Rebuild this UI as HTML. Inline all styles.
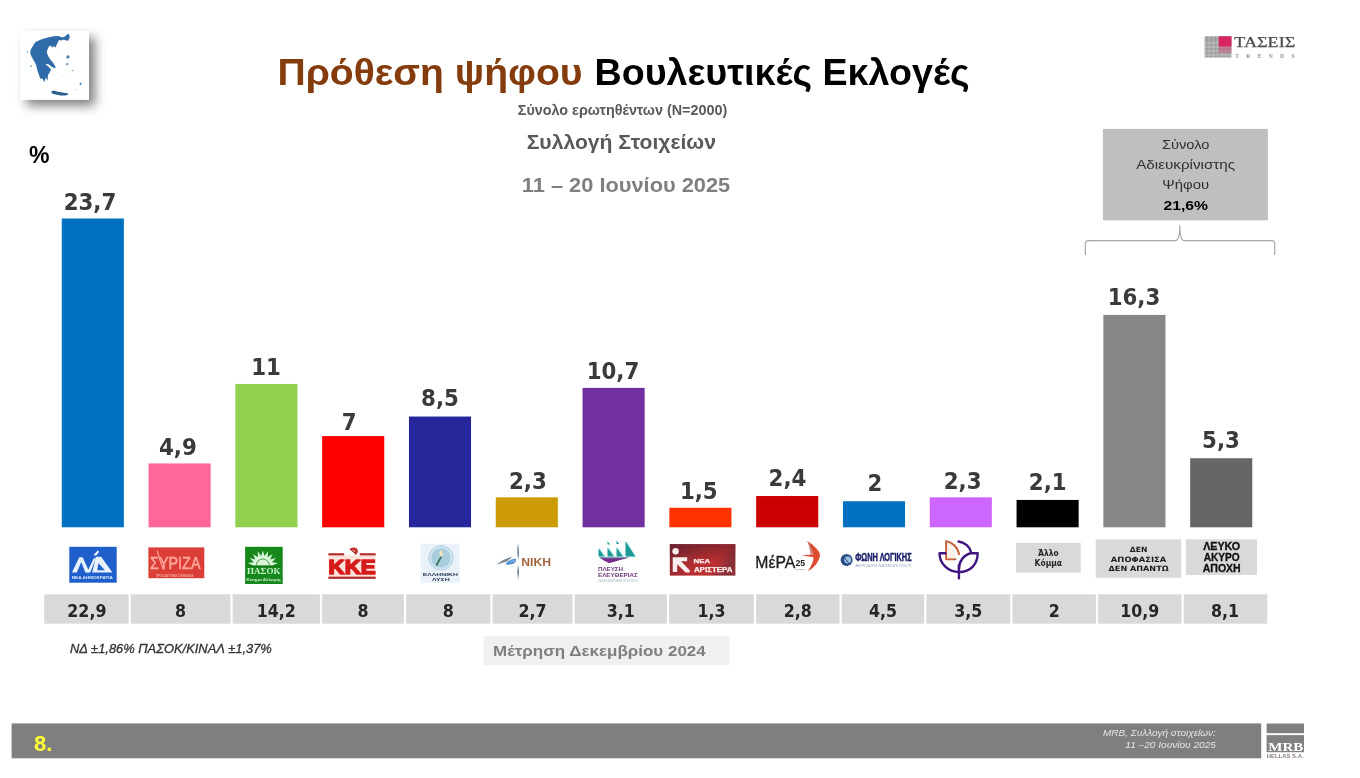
<!DOCTYPE html>
<html lang="el">
<head>
<meta charset="utf-8">
<title>Πρόθεση ψήφου Βουλευτικές Εκλογές</title>
<style>
html,body{margin:0;padding:0;background:#fff;}
body{width:1360px;height:778px;overflow:hidden;position:relative;font-family:"Liberation Sans",sans-serif;}
svg{position:absolute;left:0;top:0;display:block;}
text{white-space:pre;}
</style>
</head>
<body>
<svg width="1360" height="778" viewBox="0 0 1360 778">
<rect x="0" y="0" width="1360" height="778" fill="#ffffff"/>
<g id="bars">
<rect x="61.75" y="218.49" width="62.10" height="308.81" fill="#0070C0"/>
<rect x="148.55" y="463.45" width="62.10" height="63.85" fill="#FF6699"/>
<rect x="235.35" y="383.97" width="62.10" height="143.33" fill="#92D050"/>
<rect x="322.15" y="436.09" width="62.10" height="91.21" fill="#FF0000"/>
<rect x="408.95" y="416.54" width="62.10" height="110.75" fill="#26269B"/>
<rect x="495.75" y="497.33" width="62.10" height="29.97" fill="#CC9B06"/>
<rect x="582.55" y="387.88" width="62.10" height="139.42" fill="#7030A0"/>
<rect x="669.35" y="507.75" width="62.10" height="19.55" fill="#FF3300"/>
<rect x="756.15" y="496.03" width="62.10" height="31.27" fill="#CC0000"/>
<rect x="842.95" y="501.24" width="62.10" height="26.06" fill="#0070C0"/>
<rect x="929.75" y="497.33" width="62.10" height="29.97" fill="#CC66FF"/>
<rect x="1016.55" y="499.94" width="62.10" height="27.36" fill="#000000"/>
<rect x="1103.35" y="314.91" width="62.10" height="212.39" fill="#878787"/>
<rect x="1190.15" y="458.24" width="62.10" height="69.06" fill="#666666"/>
</g>
<g id="bar-labels">
<text x="90.0" y="209.8" font-family='"DejaVu Sans Condensed", "DejaVu Sans", sans-serif' font-size="23" font-weight="bold" font-style="normal" fill="#3A3A3A" text-anchor="middle" textLength="52.6" lengthAdjust="spacingAndGlyphs">23,7</text>
<text x="177.9" y="455.0" font-family='"DejaVu Sans Condensed", "DejaVu Sans", sans-serif' font-size="23" font-weight="bold" font-style="normal" fill="#3A3A3A" text-anchor="middle" textLength="37.8" lengthAdjust="spacingAndGlyphs">4,9</text>
<text x="266.0" y="374.8" font-family='"DejaVu Sans Condensed", "DejaVu Sans", sans-serif' font-size="23" font-weight="bold" font-style="normal" fill="#3A3A3A" text-anchor="middle" textLength="29.7" lengthAdjust="spacingAndGlyphs">11</text>
<text x="349.2" y="430.0" font-family='"DejaVu Sans Condensed", "DejaVu Sans", sans-serif' font-size="23" font-weight="bold" font-style="normal" fill="#3A3A3A" text-anchor="middle" textLength="14.8" lengthAdjust="spacingAndGlyphs">7</text>
<text x="440.0" y="405.5" font-family='"DejaVu Sans Condensed", "DejaVu Sans", sans-serif' font-size="23" font-weight="bold" font-style="normal" fill="#3A3A3A" text-anchor="middle" textLength="37.8" lengthAdjust="spacingAndGlyphs">8,5</text>
<text x="527.9" y="488.5" font-family='"DejaVu Sans Condensed", "DejaVu Sans", sans-serif' font-size="23" font-weight="bold" font-style="normal" fill="#3A3A3A" text-anchor="middle" textLength="37.8" lengthAdjust="spacingAndGlyphs">2,3</text>
<text x="613.0" y="378.5" font-family='"DejaVu Sans Condensed", "DejaVu Sans", sans-serif' font-size="23" font-weight="bold" font-style="normal" fill="#3A3A3A" text-anchor="middle" textLength="52.6" lengthAdjust="spacingAndGlyphs">10,7</text>
<text x="698.8" y="498.5" font-family='"DejaVu Sans Condensed", "DejaVu Sans", sans-serif' font-size="23" font-weight="bold" font-style="normal" fill="#3A3A3A" text-anchor="middle" textLength="37.8" lengthAdjust="spacingAndGlyphs">1,5</text>
<text x="787.5" y="486.0" font-family='"DejaVu Sans Condensed", "DejaVu Sans", sans-serif' font-size="23" font-weight="bold" font-style="normal" fill="#3A3A3A" text-anchor="middle" textLength="37.8" lengthAdjust="spacingAndGlyphs">2,4</text>
<text x="874.8" y="490.9" font-family='"DejaVu Sans Condensed", "DejaVu Sans", sans-serif' font-size="23" font-weight="bold" font-style="normal" fill="#3A3A3A" text-anchor="middle" textLength="14.8" lengthAdjust="spacingAndGlyphs">2</text>
<text x="962.6" y="488.5" font-family='"DejaVu Sans Condensed", "DejaVu Sans", sans-serif' font-size="23" font-weight="bold" font-style="normal" fill="#3A3A3A" text-anchor="middle" textLength="37.8" lengthAdjust="spacingAndGlyphs">2,3</text>
<text x="1047.7" y="489.5" font-family='"DejaVu Sans Condensed", "DejaVu Sans", sans-serif' font-size="23" font-weight="bold" font-style="normal" fill="#3A3A3A" text-anchor="middle" textLength="37.8" lengthAdjust="spacingAndGlyphs">2,1</text>
<text x="1134.0" y="305.2" font-family='"DejaVu Sans Condensed", "DejaVu Sans", sans-serif' font-size="23" font-weight="bold" font-style="normal" fill="#3A3A3A" text-anchor="middle" textLength="52.6" lengthAdjust="spacingAndGlyphs">16,3</text>
<text x="1221.0" y="447.6" font-family='"DejaVu Sans Condensed", "DejaVu Sans", sans-serif' font-size="23" font-weight="bold" font-style="normal" fill="#3A3A3A" text-anchor="middle" textLength="37.8" lengthAdjust="spacingAndGlyphs">5,3</text>
</g>
<g id="table">
<rect x="44.20" y="594.30" width="84.40" height="29.40" fill="#D9D9D9"/>
<rect x="130.80" y="594.30" width="99.60" height="29.40" fill="#D9D9D9"/>
<rect x="232.60" y="594.30" width="87.30" height="29.40" fill="#D9D9D9"/>
<rect x="322.10" y="594.30" width="81.80" height="29.40" fill="#D9D9D9"/>
<rect x="406.10" y="594.30" width="84.30" height="29.40" fill="#D9D9D9"/>
<rect x="492.60" y="594.30" width="79.90" height="29.40" fill="#D9D9D9"/>
<rect x="574.70" y="594.30" width="92.20" height="29.40" fill="#D9D9D9"/>
<rect x="669.10" y="594.30" width="84.80" height="29.40" fill="#D9D9D9"/>
<rect x="756.10" y="594.30" width="83.40" height="29.40" fill="#D9D9D9"/>
<rect x="841.70" y="594.30" width="82.50" height="29.40" fill="#D9D9D9"/>
<rect x="926.40" y="594.30" width="83.80" height="29.40" fill="#D9D9D9"/>
<rect x="1012.40" y="594.30" width="83.50" height="29.40" fill="#D9D9D9"/>
<rect x="1098.10" y="594.30" width="83.40" height="29.40" fill="#D9D9D9"/>
<rect x="1183.70" y="594.30" width="83.60" height="29.40" fill="#D9D9D9"/>
<text x="86.9" y="617.3" font-family='"DejaVu Sans Condensed", "DejaVu Sans", sans-serif' font-size="17.6" font-weight="bold" font-style="normal" fill="#262626" text-anchor="middle">22,9</text>
<text x="180.6" y="617.3" font-family='"DejaVu Sans Condensed", "DejaVu Sans", sans-serif' font-size="17.6" font-weight="bold" font-style="normal" fill="#262626" text-anchor="middle">8</text>
<text x="276.2" y="617.3" font-family='"DejaVu Sans Condensed", "DejaVu Sans", sans-serif' font-size="17.6" font-weight="bold" font-style="normal" fill="#262626" text-anchor="middle">14,2</text>
<text x="363.0" y="617.3" font-family='"DejaVu Sans Condensed", "DejaVu Sans", sans-serif' font-size="17.6" font-weight="bold" font-style="normal" fill="#262626" text-anchor="middle">8</text>
<text x="448.2" y="617.3" font-family='"DejaVu Sans Condensed", "DejaVu Sans", sans-serif' font-size="17.6" font-weight="bold" font-style="normal" fill="#262626" text-anchor="middle">8</text>
<text x="532.5" y="617.3" font-family='"DejaVu Sans Condensed", "DejaVu Sans", sans-serif' font-size="17.6" font-weight="bold" font-style="normal" fill="#262626" text-anchor="middle">2,7</text>
<text x="620.8" y="617.3" font-family='"DejaVu Sans Condensed", "DejaVu Sans", sans-serif' font-size="17.6" font-weight="bold" font-style="normal" fill="#262626" text-anchor="middle">3,1</text>
<text x="711.5" y="617.3" font-family='"DejaVu Sans Condensed", "DejaVu Sans", sans-serif' font-size="17.6" font-weight="bold" font-style="normal" fill="#262626" text-anchor="middle">1,3</text>
<text x="797.8" y="617.3" font-family='"DejaVu Sans Condensed", "DejaVu Sans", sans-serif' font-size="17.6" font-weight="bold" font-style="normal" fill="#262626" text-anchor="middle">2,8</text>
<text x="883.0" y="617.3" font-family='"DejaVu Sans Condensed", "DejaVu Sans", sans-serif' font-size="17.6" font-weight="bold" font-style="normal" fill="#262626" text-anchor="middle">4,5</text>
<text x="968.3" y="617.3" font-family='"DejaVu Sans Condensed", "DejaVu Sans", sans-serif' font-size="17.6" font-weight="bold" font-style="normal" fill="#262626" text-anchor="middle">3,5</text>
<text x="1054.2" y="617.3" font-family='"DejaVu Sans Condensed", "DejaVu Sans", sans-serif' font-size="17.6" font-weight="bold" font-style="normal" fill="#262626" text-anchor="middle">2</text>
<text x="1139.8" y="617.3" font-family='"DejaVu Sans Condensed", "DejaVu Sans", sans-serif' font-size="17.6" font-weight="bold" font-style="normal" fill="#262626" text-anchor="middle">10,9</text>
<text x="1224.9" y="617.3" font-family='"DejaVu Sans Condensed", "DejaVu Sans", sans-serif' font-size="17.6" font-weight="bold" font-style="normal" fill="#262626" text-anchor="middle">8,1</text>
</g>
<g id="titles">
<text x="277.5" y="84.8" font-family='"Liberation Sans", sans-serif' font-size="37" font-weight="bold" font-style="normal" fill="#843C0C" text-anchor="start" textLength="305.0" lengthAdjust="spacingAndGlyphs">Πρόθεση ψήφου</text>
<text x="594.5" y="84.8" font-family='"Liberation Sans", sans-serif' font-size="37" font-weight="bold" font-style="normal" fill="#000000" text-anchor="start" textLength="375.0" lengthAdjust="spacingAndGlyphs">Βουλευτικές Εκλογές</text>
<text x="517.8" y="115.4" font-family='"Liberation Sans", sans-serif' font-size="13.8" font-weight="bold" font-style="normal" fill="#595959" text-anchor="start" textLength="209.4" lengthAdjust="spacingAndGlyphs">Σύνολο ερωτηθέντων (Ν=2000)</text>
<text x="526.7" y="149.0" font-family='"Liberation Sans", sans-serif' font-size="21" font-weight="bold" font-style="normal" fill="#595959" text-anchor="start" textLength="189.3" lengthAdjust="spacingAndGlyphs">Συλλογή Στοιχείων</text>
<text x="521.8" y="191.6" font-family='"Liberation Sans", sans-serif' font-size="20.4" font-weight="bold" font-style="normal" fill="#7f7f7f" text-anchor="start" textLength="208.4" lengthAdjust="spacingAndGlyphs">11 – 20 Ιουνίου 2025</text>
<text x="29.0" y="163.0" font-family='"Liberation Sans", sans-serif' font-size="23" font-weight="bold" font-style="normal" fill="#000000" text-anchor="start" textLength="20.5" lengthAdjust="spacingAndGlyphs">%</text>
</g>
<g id="summary">
<rect x="1102.90" y="128.90" width="165.00" height="91.40" fill="#BFBFBF"/>
<text x="1185.7" y="148.7" font-family='"Liberation Sans", sans-serif' font-size="12.6" font-weight="normal" font-style="normal" fill="#303030" text-anchor="middle" textLength="47.5" lengthAdjust="spacingAndGlyphs">Σύνολο</text>
<text x="1185.7" y="168.6" font-family='"Liberation Sans", sans-serif' font-size="12.6" font-weight="normal" font-style="normal" fill="#303030" text-anchor="middle" textLength="99.0" lengthAdjust="spacingAndGlyphs">Αδιευκρίνιστης</text>
<text x="1185.7" y="188.6" font-family='"Liberation Sans", sans-serif' font-size="12.6" font-weight="normal" font-style="normal" fill="#303030" text-anchor="middle" textLength="46.7" lengthAdjust="spacingAndGlyphs">Ψήφου</text>
<text x="1185.7" y="209.8" font-family='"Liberation Sans", sans-serif' font-size="13.2" font-weight="bold" font-style="normal" fill="#000000" text-anchor="middle" textLength="44.6" lengthAdjust="spacingAndGlyphs">21,6%</text>
<path d="M1085.4 255 V243.5 Q1085.4 240.6 1088.5 240.6 H1175.4 Q1179.8 240.6 1179.8 225.3 Q1179.8 240.6 1184.2 240.6 H1271.6 Q1274.7 240.6 1274.7 243.5 V255" fill="none" stroke="#A6A6A6" stroke-width="1.2"/>
</g>
<g id="notes">
<text x="70.0" y="652.8" font-family='"Liberation Sans", sans-serif' font-size="12" font-weight="normal" font-style="italic" fill="#333333" text-anchor="start" textLength="201.8" lengthAdjust="spacingAndGlyphs" stroke="#333333" stroke-width="0.3">ΝΔ ±1,86% ΠΑΣΟΚ/ΚΙΝΑΛ ±1,37%</text>
<rect x="483.40" y="636.30" width="246.00" height="28.80" fill="#F0F0F0"/>
<text x="493.0" y="655.9" font-family='"Liberation Sans", sans-serif' font-size="15" font-weight="bold" font-style="normal" fill="#7f7f7f" text-anchor="start" textLength="212.7" lengthAdjust="spacingAndGlyphs">Μέτρηση Δεκεμβρίου 2024</text>
</g>
<g id="footer">
<rect x="11.60" y="723.40" width="1249.60" height="34.90" fill="#7F7F7F"/>
<text x="34.0" y="750.8" font-family='"Liberation Sans", sans-serif' font-size="22" font-weight="bold" font-style="normal" fill="#FFFF33" text-anchor="start">8.</text>
<text x="1215.9" y="735.6" font-family='"Liberation Sans", sans-serif' font-size="9.8" font-weight="normal" font-style="italic" fill="#E6E6E6" text-anchor="end" textLength="112.9" lengthAdjust="spacingAndGlyphs">MRB, Συλλογή στοιχείων:</text>
<text x="1215.9" y="748.0" font-family='"Liberation Sans", sans-serif' font-size="9.8" font-weight="normal" font-style="italic" fill="#E6E6E6" text-anchor="end" textLength="90.6" lengthAdjust="spacingAndGlyphs">11 –20 Ιουνίου 2025</text>
</g>
<defs><filter id="cardsh" x="-40%" y="-40%" width="200%" height="200%"><feGaussianBlur in="SourceAlpha" stdDeviation="5.5"/><feOffset dx="6" dy="6"/><feComponentTransfer><feFuncA type="linear" slope="0.5"/></feComponentTransfer><feMerge><feMergeNode/><feMergeNode in="SourceGraphic"/></feMerge></filter></defs>
<g id="logo-map">
<rect x="20.5" y="31.2" width="68.5" height="68.6" fill="#ffffff" filter="url(#cardsh)"/>
<g transform="translate(20,28) scale(0.09643)" fill="#2E6BA8">
<path d="M505,60 L517,95 L500,132 L470,128 L452,120 L430,130 L405,124 L392,150 L378,178 L366,206 L350,186 L336,204 L318,182 L300,192 L284,222 L278,255 L292,290 L312,325 L345,362 L368,405 L352,416 L325,400 L295,377 L262,374 L300,404 L322,432 L306,464 L290,487 L286,548 L268,514 L252,562 L234,524 L212,526 L196,484 L182,444 L174,414 L166,382 L146,342 L122,302 L106,262 L111,225 L132,188 L158,148 L200,126 L250,110 L300,96 L350,86 L400,82 L440,98 L470,86 L490,64 Z"/>
<path d="M322,660 L350,647 L392,660 L440,670 L492,676 L504,690 L470,701 L420,699 L370,690 L333,678 Z" fill="#2A5F8C"/>
<path d="M300,330 L355,385 L372,420 L350,405 L300,350 Z"/>
<circle cx="497" cy="300" r="17" opacity="0.85"/><circle cx="490" cy="375" r="11" opacity="0.8"/><circle cx="545" cy="440" r="8" opacity="0.6"/><ellipse cx="628" cy="580" rx="9" ry="15" transform="rotate(25 628 580)" opacity="0.85"/><circle cx="575" cy="640" r="6" opacity="0.6"/><circle cx="75" cy="250" r="8" opacity="0.7"/><circle cx="115" cy="395" r="9" opacity="0.7"/><circle cx="430" cy="235" r="5" opacity="0.4"/><circle cx="450" cy="500" r="5" opacity="0.3"/><circle cx="400" cy="470" r="5" opacity="0.3"/><circle cx="520" cy="520" r="5" opacity="0.3"/>
</g></g>
<g id="logo-taseis">
<rect x="1204.60" y="36.30" width="26.90" height="21.20" fill="#A9A9A9"/>
<rect x="1206.6" y="36.3" width="1.1" height="21.2" fill="#8a8a8a" opacity="0.55"/>
<rect x="1210.8" y="36.3" width="1.1" height="21.2" fill="#8a8a8a" opacity="0.55"/>
<rect x="1215.0" y="36.3" width="1.1" height="21.2" fill="#8a8a8a" opacity="0.55"/>
<rect x="1219.2" y="36.3" width="1.1" height="21.2" fill="#8a8a8a" opacity="0.55"/>
<rect x="1223.4" y="36.3" width="1.1" height="21.2" fill="#8a8a8a" opacity="0.55"/>
<rect x="1227.6" y="36.3" width="1.1" height="21.2" fill="#8a8a8a" opacity="0.55"/>
<rect x="1204.6" y="42.5" width="26.9" height="0.9" fill="#d5d5d5" opacity="0.7"/>
<rect x="1204.6" y="46.5" width="26.9" height="0.9" fill="#d5d5d5" opacity="0.7"/>
<rect x="1204.6" y="50.5" width="26.9" height="0.9" fill="#d5d5d5" opacity="0.7"/>
<rect x="1204.6" y="54.5" width="26.9" height="0.9" fill="#d5d5d5" opacity="0.7"/>
<rect x="1218.70" y="36.30" width="12.80" height="10.30" fill="#D8245F"/>
<rect x="1218.7" y="46.6" width="12.8" height="6" fill="#D8245F" opacity="0.35"/>
<text x="1234.3" y="46.6" font-family='"Liberation Serif", serif' font-size="14.8" font-weight="normal" font-style="normal" fill="#4A4A4A" text-anchor="start" textLength="61.0" lengthAdjust="spacingAndGlyphs" stroke="#4A4A4A" stroke-width="0.25">ΤΑΣΕΙΣ</text>
<text x="1235.3" y="57.7" font-family='"Liberation Serif", serif' font-size="5.6" font-weight="bold" font-style="normal" fill="#909090" text-anchor="start" letter-spacing="7.3">TRENDS</text>
</g>
<g id="logo-mrb">
<rect x="1266.60" y="723.50" width="37.40" height="9.70" fill="#808080"/>
<rect x="1266.60" y="735.10" width="37.40" height="17.10" fill="#808080"/>
<text x="1268.2" y="751.0" font-family='"Liberation Serif", serif' font-size="12.6" font-weight="bold" font-style="normal" fill="#ffffff" text-anchor="start" textLength="35.2" lengthAdjust="spacingAndGlyphs">MRB</text>
<text x="1266.8" y="757.7" font-family='"Liberation Sans", sans-serif' font-size="4.6" font-weight="bold" font-style="normal" fill="#8A7A80" text-anchor="start" textLength="36.8" lengthAdjust="spacingAndGlyphs">HELLAS S.A.</text>
</g>
<g id="cat-boxes">
<rect x="1016.00" y="542.80" width="64.70" height="29.80" fill="#D9D9D9"/>
<text x="1048.3" y="556.2" font-family='"DejaVu Sans Condensed", "DejaVu Sans", sans-serif' font-size="8" font-weight="bold" font-style="normal" fill="#262626" text-anchor="middle" textLength="20.5" lengthAdjust="spacingAndGlyphs">Άλλο</text>
<text x="1048.3" y="565.6" font-family='"DejaVu Sans Condensed", "DejaVu Sans", sans-serif' font-size="8" font-weight="bold" font-style="normal" fill="#262626" text-anchor="middle" textLength="27.5" lengthAdjust="spacingAndGlyphs">Κόμμα</text>
<rect x="1095.70" y="539.30" width="85.50" height="38.50" fill="#D9D9D9"/>
<text x="1138.6" y="551.8" font-family='"DejaVu Sans Condensed", "DejaVu Sans", sans-serif' font-size="7.3" font-weight="bold" font-style="normal" fill="#1a1a1a" text-anchor="middle" textLength="17.5" lengthAdjust="spacingAndGlyphs">ΔΕΝ</text>
<text x="1138.6" y="562.0" font-family='"DejaVu Sans Condensed", "DejaVu Sans", sans-serif' font-size="7.3" font-weight="bold" font-style="normal" fill="#1a1a1a" text-anchor="middle" textLength="55.5" lengthAdjust="spacingAndGlyphs">ΑΠΟΦΑΣΙΣΑ</text>
<text x="1138.6" y="571.3" font-family='"DejaVu Sans Condensed", "DejaVu Sans", sans-serif' font-size="7.3" font-weight="bold" font-style="normal" fill="#1a1a1a" text-anchor="middle" textLength="60.0" lengthAdjust="spacingAndGlyphs">ΔΕΝ ΑΠΑΝΤΩ</text>
<rect x="1185.90" y="539.30" width="71.10" height="35.60" fill="#D9D9D9"/>
<text x="1221.7" y="550.0" font-family='"Liberation Sans", sans-serif' font-size="10" font-weight="bold" font-style="normal" fill="#111111" text-anchor="middle" textLength="37.0" lengthAdjust="spacingAndGlyphs" stroke="#111111" stroke-width="0.3">ΛΕΥΚΟ</text>
<text x="1221.7" y="561.1" font-family='"Liberation Sans", sans-serif' font-size="10" font-weight="bold" font-style="normal" fill="#111111" text-anchor="middle" textLength="36.0" lengthAdjust="spacingAndGlyphs" stroke="#111111" stroke-width="0.3">ΑΚΥΡΟ</text>
<text x="1221.7" y="572.2" font-family='"Liberation Sans", sans-serif' font-size="10" font-weight="bold" font-style="normal" fill="#111111" text-anchor="middle" textLength="38.0" lengthAdjust="spacingAndGlyphs" stroke="#111111" stroke-width="0.3">ΑΠΟΧΗ</text>
</g>
<g id="logo-nd">
<rect x="69.30" y="546.80" width="47.40" height="35.90" fill="#1F5FCB"/>
<g transform="translate(60,540) scale(0.06427)">
<g fill="#E8F2FF">
<path d="M185,505 L262,505 L335,330 L300,268 Z"/>
<path d="M300,268 L352,268 L445,470 L445,505 L395,505 Z"/>
<path d="M420,505 L470,505 L560,285 L525,285 Z"/>
<path d="M520,235 L590,160 L610,185 L560,245 Z"/>
<path d="M560,262 L640,262 L815,505 L500,505 Z M598,360 L580,470 L700,470 Z" fill-rule="evenodd"/>
</g></g>
<text x="71.8" y="579.3" font-family='"Liberation Sans", sans-serif' font-size="3.9" font-weight="bold" font-style="normal" fill="#DDEBFF" text-anchor="start" textLength="41.0" lengthAdjust="spacingAndGlyphs">ΝΕΑ ΔΗΜΟΚΡΑΤΙΑ</text>
</g>
<g id="logo-syriza">
<rect x="148.40" y="547.40" width="55.90" height="30.80" fill="#DB3E36"/>
<text x="150.0" y="569.0" font-family='"Liberation Sans", sans-serif' font-size="16.6" font-weight="normal" font-style="normal" fill="#FFA79C" text-anchor="start" textLength="50.5" lengthAdjust="spacingAndGlyphs" stroke="#FFA79C" stroke-width="0.45">ΣΥΡΙΖΑ</text>
<path d="M157.2,550.5 L160.2,561 L163.4,569.5" stroke="#FFA79C" stroke-width="1.1" fill="none"/>
<text x="156.0" y="577.2" font-family='"Liberation Sans", sans-serif' font-size="2.9" font-weight="bold" font-style="normal" fill="#F5A79E" text-anchor="start" textLength="37.3" lengthAdjust="spacingAndGlyphs">ΠΡΟΟΔΕΥΤΙΚΗ ΣΥΜΜΑΧΙΑ</text>
</g>
<g id="logo-pasok">
<rect x="245.10" y="546.80" width="37.60" height="37.20" fill="#16871A"/>
<path d="M253.2,565.6 L247.8,563.0 L253.8,562.3 L249.6,558.0 L255.4,559.4 L253.0,554.0 L258.0,557.3 L257.6,551.3 L261.1,556.1 L262.8,550.4 L264.5,556.1 L268.0,551.3 L267.6,557.3 L272.6,554.0 L270.2,559.4 L276.0,558.0 L271.8,562.3 L277.8,563.0 L272.4,565.6 Z" fill="#D9F6DA"/>
<path d="M256.2,565.6 A6.6,6.6 0 0 1 269.4,565.6" fill="none" stroke="#3C9A3F" stroke-width="0.9"/>
<rect x="246.5" y="565.8" width="34.8" height="0.8" fill="#0F6E13"/>
<text x="247.0" y="574.0" font-family='"Liberation Serif", serif' font-size="7.4" font-weight="bold" font-style="normal" fill="#C8F2CA" text-anchor="start" textLength="33.5" lengthAdjust="spacingAndGlyphs">ΠΑΣΟΚ</text>
<text x="246.6" y="581.0" font-family='"Liberation Sans", sans-serif' font-size="4.3" font-weight="bold" font-style="normal" fill="#C9F0CB" text-anchor="start" textLength="34.6" lengthAdjust="spacingAndGlyphs">Κίνημα Αλλαγής</text>
</g>
<g id="logo-kke">
<rect x="328.40" y="555.40" width="47.30" height="21.20" fill="#FCE4DD"/>
<rect x="328.40" y="553.20" width="15.80" height="2.20" fill="#B42E2E"/>
<rect x="359.80" y="553.20" width="15.90" height="2.20" fill="#B42E2E"/>
<rect x="328.40" y="576.60" width="47.30" height="2.30" fill="#B42E2E"/>
<path d="M349.2,550 Q351,547.2 354.6,547.6 Q358.4,548.6 357.8,552 Q357,554.6 354.4,554.4 Q355.6,552.2 354.4,550.6 Q352.6,549.2 349.2,550 Z" fill="#C22A2A"/>
<path d="M350.2,549 L356.6,554.2" stroke="#A82424" stroke-width="1.2"/>
<text x="328.6" y="573.7" font-family='"Liberation Sans", sans-serif' font-size="21" font-weight="bold" font-style="normal" fill="#D61B1B" text-anchor="start" textLength="47.0" lengthAdjust="spacingAndGlyphs" stroke="#D61B1B" stroke-width="1.7" stroke-linejoin="round">ΚΚΕ</text>
</g>
<g id="logo-el">
<rect x="420.70" y="543.80" width="38.90" height="39.20" fill="#EAF1F8"/>
<circle cx="441" cy="557.9" r="12.2" fill="#CFE3EF" stroke="#B4CFE2" stroke-width="1"/>
<circle cx="441" cy="557.9" r="9.6" fill="#A9CDDD"/>
<path d="M436.6,565 L441,557.2" stroke="#2F6B57" stroke-width="1.6" stroke-linecap="round"/>
<ellipse cx="441.2" cy="553.6" rx="1.7" ry="3" fill="#E8E3B8"/>
<text x="422.7" y="576.2" font-family='"Liberation Sans", sans-serif' font-size="4.4" font-weight="bold" font-style="normal" fill="#2B3955" text-anchor="start" textLength="35.3" lengthAdjust="spacingAndGlyphs">ΕΛΛΗΝΙΚΗ</text>
<text x="432.0" y="580.5" font-family='"Liberation Sans", sans-serif' font-size="3.8" font-weight="bold" font-style="normal" fill="#2B3955" text-anchor="start" textLength="17.7" lengthAdjust="spacingAndGlyphs">ΛΥΣΗ</text>
</g>
<g id="logo-niki">
<g transform="translate(490,538) scale(0.06427)">
<path d="M435,85 Q466,220 440,335 Q410,220 435,85 Z" fill="#6F8CA4"/>
<path d="M436,415 Q466,530 436,645 Q408,530 436,415 Z" fill="#6F8CA4"/>
<path d="M95,412 Q200,330 340,292 Q310,335 250,368 Q180,392 95,412 Z" fill="#7C8894"/>
<path d="M240,412 Q300,318 405,325 Q418,372 362,402 Q310,420 240,412 Z" fill="#4C8FD0"/>
<path d="M300,380 Q340,345 395,345 Q380,370 300,380 Z" fill="#A8D2F2"/>
</g>
<text x="521.3" y="565.6" font-family='"Liberation Sans", sans-serif' font-size="11.6" font-weight="bold" font-style="normal" fill="#A3643C" text-anchor="start" textLength="29.8" lengthAdjust="spacingAndGlyphs">ΝΙΚΗ</text>
</g>
<g id="logo-plefsi">
<g transform="translate(580,536) scale(0.06427)">
<g fill="#C6F4F4"><path d="M300,170 L300,325 L410,325 Z"/><path d="M440,160 L440,325 L560,325 Z"/><path d="M580,160 L580,325 L700,325 Z"/><path d="M720,70 L720,325 L880,325 Z"/></g>
<g fill="#1C9A96"><path d="M288,190 L288,320 L380,320 Z"/><path d="M428,180 L428,320 L528,320 Z"/><path d="M428,80 L428,132 L468,132 Z"/><path d="M568,180 L568,320 L668,320 Z"/><path d="M568,70 L568,126 L610,126 Z"/><path d="M708,82 L708,320 L862,320 Z"/></g>
<path d="M300,336 L770,336 Q640,372 560,392 Q490,418 450,420 Q380,395 300,336 Z" fill="#7A2C8C"/>
<path d="M300,336 L770,336 L640,352 L330,352 Z" fill="#3E8FA0" opacity="0.7"/>
</g>
<text x="598.0" y="570.5" font-family='"Liberation Sans", sans-serif' font-size="4.6" font-weight="bold" font-style="normal" fill="#6B3A7C" text-anchor="start" textLength="25.0" lengthAdjust="spacingAndGlyphs">ΠΛΕΥΣΗ</text>
<text x="598.0" y="576.8" font-family='"Liberation Sans", sans-serif' font-size="5.3" font-weight="bold" font-style="normal" fill="#6B3A7C" text-anchor="start" textLength="39.8" lengthAdjust="spacingAndGlyphs">ΕΛΕΥΘΕΡΙΑΣ</text>
<text x="598.0" y="582.0" font-family='"Liberation Sans", sans-serif' font-size="2.8" font-weight="normal" font-style="normal" fill="#9BB3C4" text-anchor="start" textLength="40.5" lengthAdjust="spacingAndGlyphs">ΖΩΗ ΚΩΝΣΤΑΝΤΟΠΟΥΛΟΥ</text>
</g>
<g id="logo-nea">
<defs><linearGradient id="neag" x1="0" y1="0" x2="1" y2="0.35"><stop offset="0" stop-color="#7C2432"/><stop offset="0.55" stop-color="#B52E30"/><stop offset="0.8" stop-color="#C03030"/><stop offset="1" stop-color="#8C3038"/></linearGradient><linearGradient id="neag2" x1="0" y1="0" x2="0" y2="1"><stop offset="0" stop-color="#5A1E2C" stop-opacity="0.55"/><stop offset="0.6" stop-color="#5A1E2C" stop-opacity="0"/></linearGradient></defs>
<rect x="669.8" y="544.1" width="65.6" height="31.5" fill="url(#neag)"/>
<rect x="669.8" y="544.1" width="65.6" height="31.5" fill="url(#neag2)"/>
<g transform="translate(665,538) scale(0.06427)">
<g fill="#FBEDED"><circle cx="165" cy="205" r="50"/><path d="M120,300 L345,300 L345,360 L250,360 L385,500 L385,535 L320,535 L190,410 L190,530 L120,530 Z"/></g>
</g>
<text x="693.6" y="563.1" font-family='"Liberation Sans", sans-serif' font-size="5.9" font-weight="bold" font-style="normal" fill="#FBEDED" text-anchor="start" textLength="16.6" lengthAdjust="spacingAndGlyphs" stroke="#FBEDED" stroke-width="0.25">ΝΕΑ</text>
<text x="693.9" y="571.7" font-family='"Liberation Sans", sans-serif' font-size="6.7" font-weight="bold" font-style="normal" fill="#FBEDED" text-anchor="start" textLength="38.6" lengthAdjust="spacingAndGlyphs" stroke="#FBEDED" stroke-width="0.25">ΑΡΙΣΤΕΡΑ</text>
</g>
<g id="logo-mera">
<text x="755.3" y="567.8" font-family='"Liberation Sans", sans-serif' font-size="17" font-weight="normal" font-style="normal" fill="#1E1E1E" text-anchor="start" textLength="40.0" lengthAdjust="spacingAndGlyphs" stroke="#1E1E1E" stroke-width="0.35">ΜέΡΑ</text>
<text x="795.4" y="566.3" font-family='"Liberation Sans", sans-serif' font-size="8.6" font-weight="bold" font-style="normal" fill="#1E1E1E" text-anchor="start" textLength="9.8" lengthAdjust="spacingAndGlyphs">25</text>
<text x="795.5" y="570.2" font-family='"Liberation Sans", sans-serif' font-size="2.4" font-weight="normal" font-style="normal" fill="#8A7A90" text-anchor="start" textLength="10.0" lengthAdjust="spacingAndGlyphs">ΜΕΤΩΠΟ</text>
<g transform="translate(750,536) scale(0.06427)">
<path d="M890,75 C1000,150 1105,250 1088,312 C1062,425 985,505 900,548 C962,455 992,385 986,332 L800,300 L986,288 C972,220 932,140 890,75 Z" fill="#E04A30"/>
<path d="M890,75 C960,170 985,230 986,288 L940,291 C935,220 915,150 890,75 Z" fill="#B0423C" opacity="0.6"/>
</g>
</g>
<g id="logo-foni">
<circle cx="846.6" cy="560" r="6" fill="#2D4F8C"/>
<circle cx="847.6" cy="560" r="3.4" fill="#9EC2E2"/>
<path d="M843,556 L849.5,564 M842,560.5 L848,566" stroke="#1F3870" stroke-width="1" fill="none"/>
<text x="855.3" y="561.0" font-family='"Liberation Sans", sans-serif' font-size="11.4" font-weight="bold" font-style="normal" fill="#1B1F6A" text-anchor="start" textLength="56.3" lengthAdjust="spacingAndGlyphs" stroke="#1B1F6A" stroke-width="0.5">ΦΩΝΗ ΛΟΓΙΚΗΣ</text>
<text x="855.3" y="567.4" font-family='"Liberation Sans", sans-serif' font-size="3.8" font-weight="normal" font-style="normal" fill="#8FA3BE" text-anchor="start" textLength="56.3" lengthAdjust="spacingAndGlyphs">ΑΦΡΟΔΙΤΗ ΛΑΤΙΝΟΠΟΥΛΟΥ</text>
</g>
<g id="logo-flower">
<g transform="translate(925,532) scale(0.07072)" fill="none" stroke-linecap="round" stroke-linejoin="round">
<path d="M300,130 V385 H430 M300,130 C400,150 470,230 482,312" stroke="#C8603C" stroke-width="30"/>
<path d="M315,150 V370 H420 C440,300 400,200 315,150 Z" fill="#FBEFE6" stroke="none"/>
<g stroke="#3F1680" stroke-width="34">
<path d="M290,300 H205 C205,450 330,565 480,565"/>
<path d="M480,565 C650,565 745,450 745,300 H645 C545,325 480,420 480,520"/>
<path d="M480,470 V655"/>
<path d="M475,135 C570,150 640,215 652,292"/>
</g></g></g>
</svg>
</body>
</html>
